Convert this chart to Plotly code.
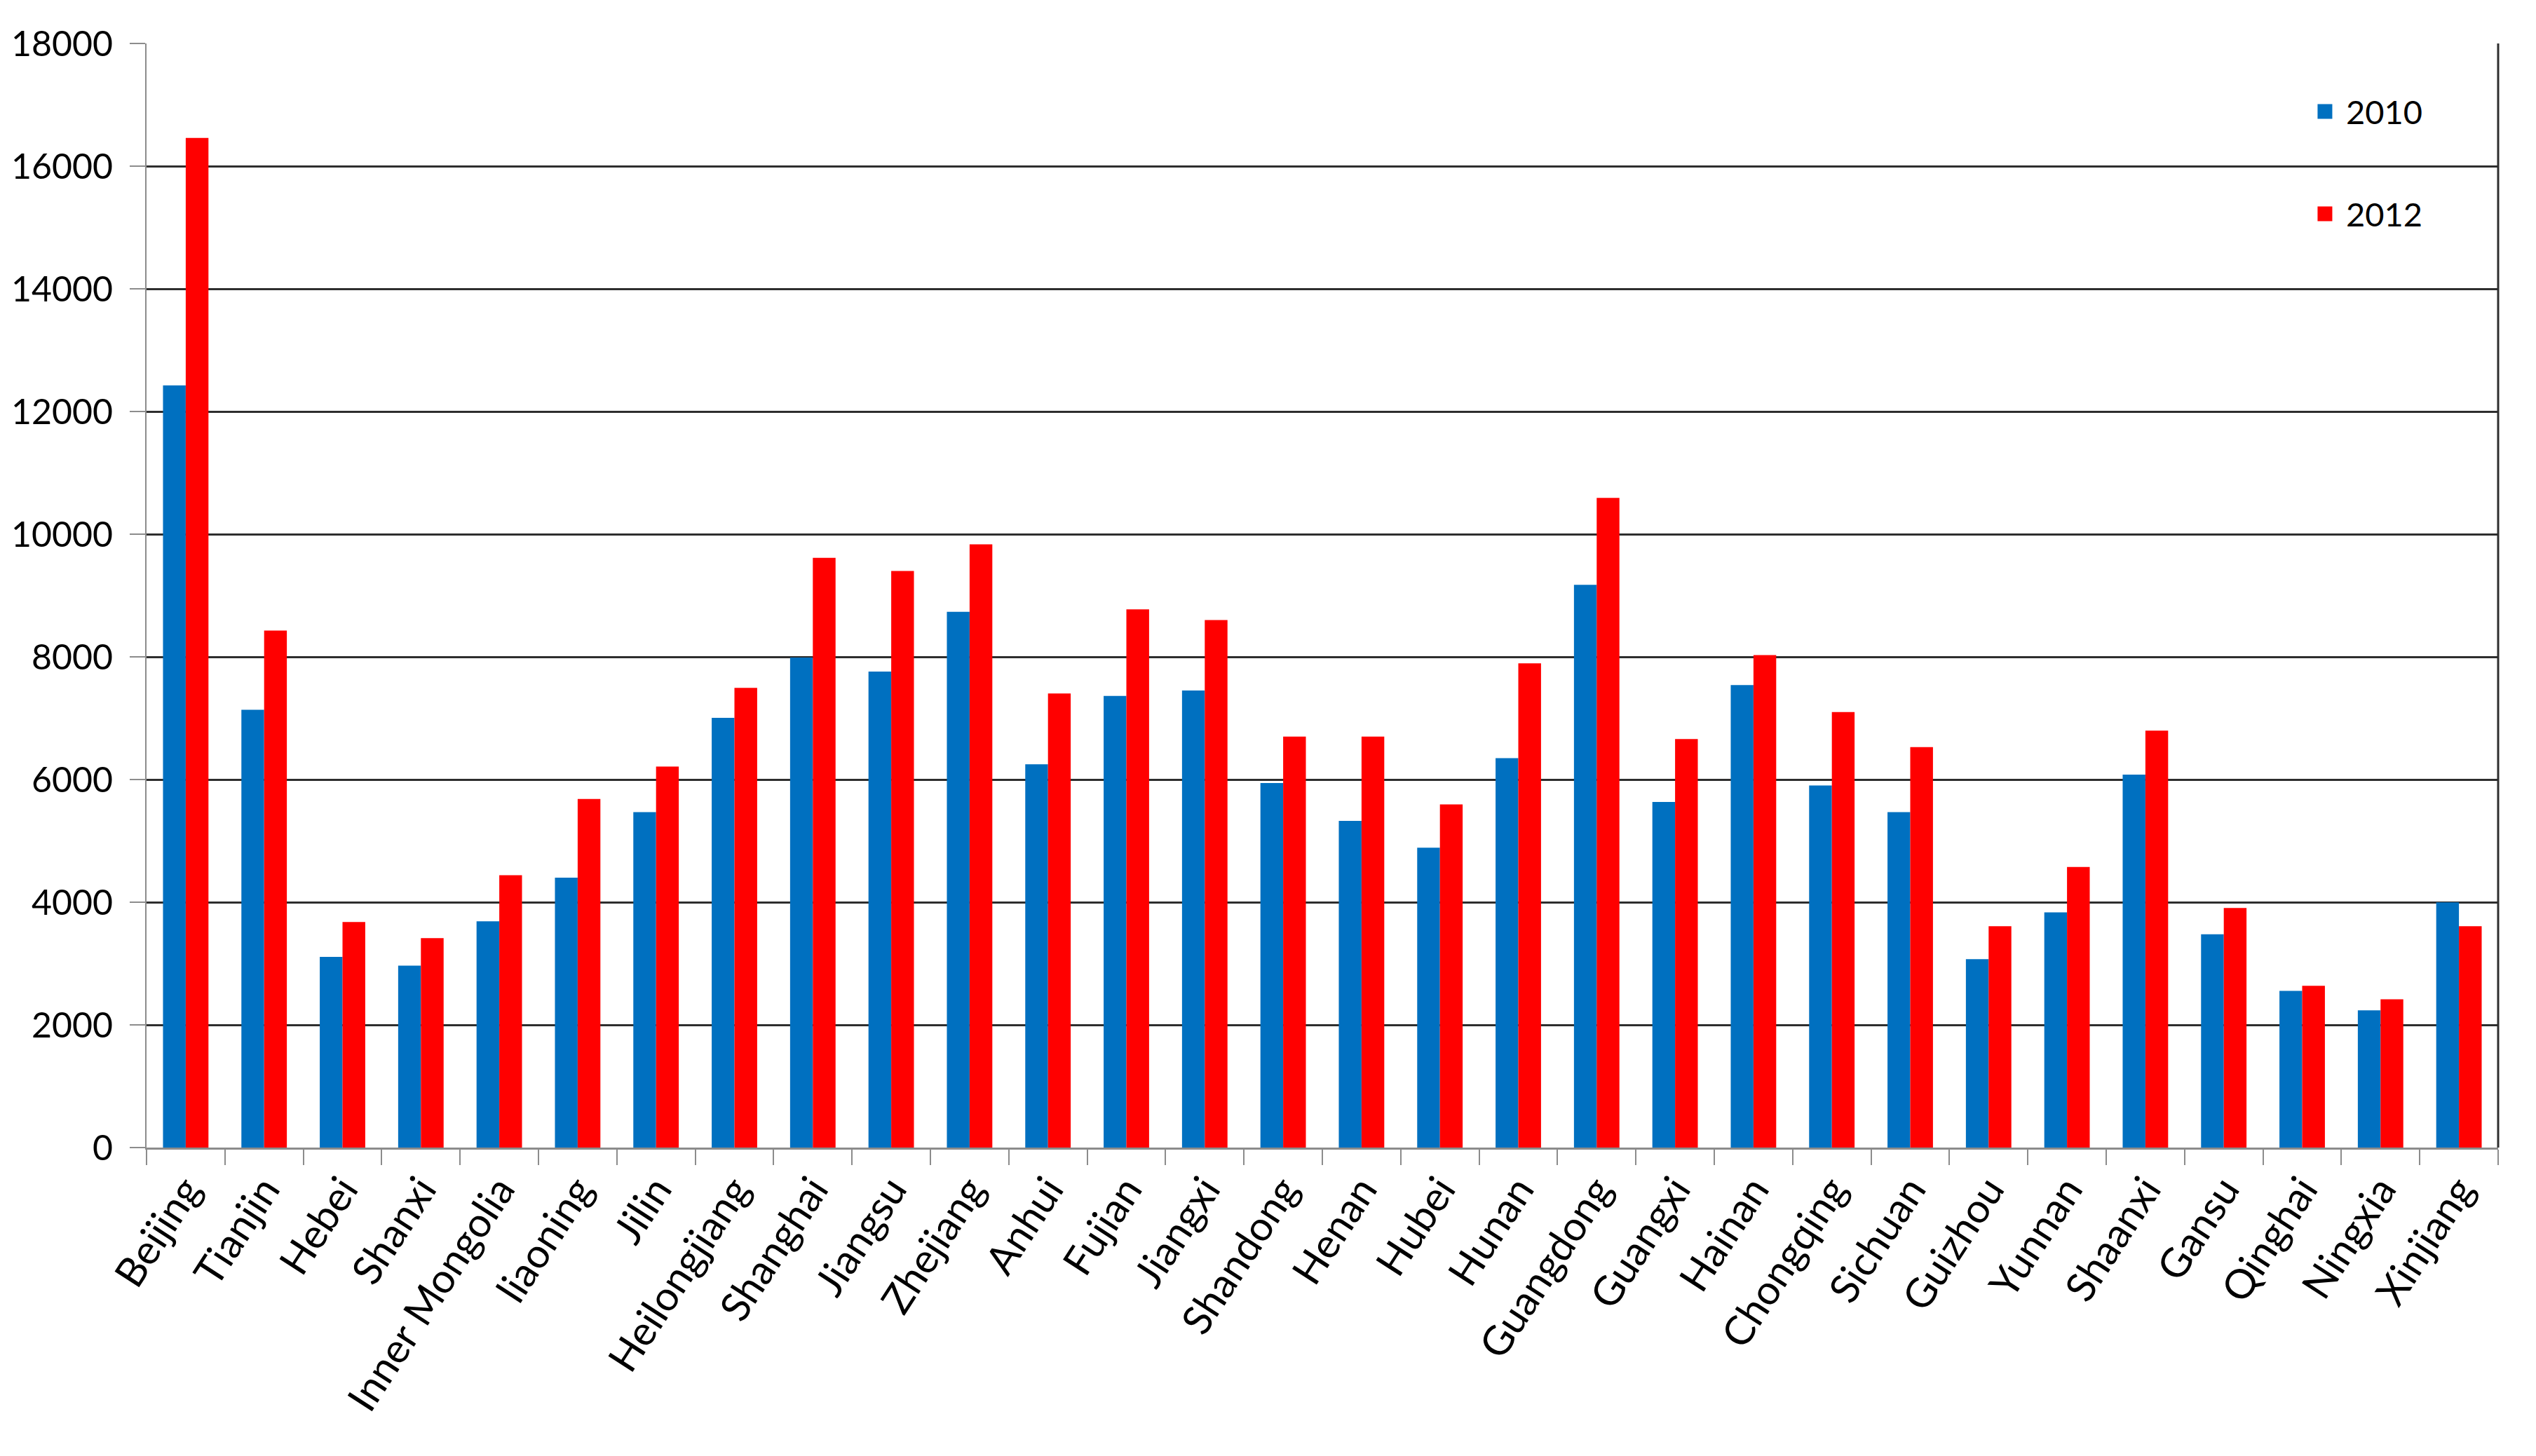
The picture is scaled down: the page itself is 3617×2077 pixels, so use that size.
import plotly.graph_objects as go

provinces = ["Beijing", "Tianjin", "Hebei", "Shanxi", "Inner Mongolia", "liaoning", "Jilin",
             "Heilongjiang", "Shanghai", "Jiangsu", "Zhejiang", "Anhui", "Fujian", "Jiangxi",
             "Shandong", "Henan", "Hubei", "Hunan", "Guangdong", "Guangxi", "Hainan",
             "Chongqing", "Sichuan", "Guizhou", "Yunnan", "Shaanxi", "Gansu", "Qinghai",
             "Ningxia", "Xinjiang"]

values_2010 = [12425, 7137, 3109, 2967, 3690, 4401, 5468, 7005, 7988, 7761, 8733, 6248,
               7362, 7452, 5944, 5325, 4890, 6349, 9173, 5634, 7541, 5902, 5468, 3072,
               3835, 6081, 3478, 2554, 2238, 3996]

values_2012 = [16460, 8429, 3678, 3415, 4440, 5682, 6212, 7493, 9614, 9400, 9835, 7404,
               8774, 8601, 6701, 6701, 5593, 7893, 10592, 6659, 8030, 7100, 6528, 3609,
               4574, 6796, 3907, 2638, 2417, 3609]

series_names = ["2010", "2012"]
y_ticks = [0, 2000, 4000, 6000, 8000, 10000, 12000, 14000, 16000, 18000]

BLUE = "#0070C0"
RED = "#FF0000"
FONT = "Lato"
TXT = "#000000"

fig = go.Figure()
fig.add_trace(go.Bar(x=provinces, y=values_2010, name=series_names[0],
                     marker=dict(color=BLUE, line=dict(width=0)), showlegend=False))
fig.add_trace(go.Bar(x=provinces, y=values_2012, name=series_names[1],
                     marker=dict(color=RED, line=dict(width=0)), showlegend=False))

# legend entries with larger square swatches
for nm, col in zip(series_names, [BLUE, RED]):
    fig.add_trace(go.Scatter(x=[None], y=[None], mode="markers", name=nm,
                             legendgroup=nm,
                             marker=dict(symbol="square", size=16, color=col,
                                         line=dict(color=col, width=5))))

fig.update_layout(
    width=3617, height=2077,
    paper_bgcolor="white", plot_bgcolor="white",
    margin=dict(l=201, r=62, t=54, b=448, autoexpand=False),
    barmode="group", bargap=0.42, bargroupgap=0,
    font=dict(family=FONT, size=50, color=TXT),
    legend=dict(x=0.9174, y=0.962, xanchor="left", yanchor="top",
                font=dict(family=FONT, size=47, color=TXT),
                itemwidth=50, itemsizing="trace", tracegroupgap=82,
                traceorder="grouped", bgcolor="rgba(0,0,0,0)"),
    xaxis=dict(type="category", tickangle=-57, tickson="boundaries",
               ticks="outside", ticklen=22, tickcolor="#8c8c8c", tickwidth=2,
               showline=True, linecolor="#8c8c8c", linewidth=3,
               showgrid=False, tickfont=dict(family=FONT, size=58, color=TXT)),
    yaxis=dict(range=[0, 18000], tickvals=y_ticks, ticktext=[str(v) for v in y_ticks],
               ticks="outside", ticklen=22, tickcolor="#8c8c8c", tickwidth=2,
               showline=True, linecolor="#8c8c8c", linewidth=2,
               showgrid=True, gridcolor="#2e2e2e", gridwidth=3,
               zeroline=False, ticklabelstandoff=14,
               tickfont=dict(family=FONT, size=50, color=TXT)),
)

fig.add_shape(type="line", xref="paper", yref="paper", x0=1, x1=1, y0=0, y1=1,
              line=dict(color="#2e2e2e", width=3))

fig.write_html("out.html")
